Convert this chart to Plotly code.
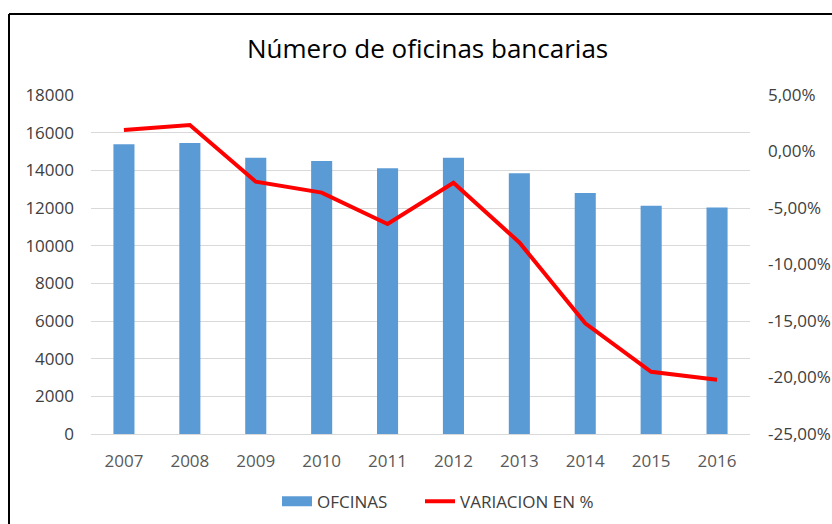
import plotly.graph_objects as go

years = ["2007", "2008", "2009", "2010", "2011", "2012", "2013", "2014", "2015", "2016"]
oficinas = [15390, 15450, 14670, 14500, 14110, 14670, 13850, 12790, 12120, 12020]
variacion = [1.90, 2.35, -2.67, -3.64, -6.42, -2.76, -8.05, -15.2, -19.5, -20.2]

left_ticks = [0, 2000, 4000, 6000, 8000, 10000, 12000, 14000, 16000, 18000]
left_labels = ["0", "2000", "4000", "6000", "8000", "10000", "12000", "14000", "16000", "18000"]
right_ticks = [-25, -20, -15, -10, -5, 0, 5]
right_labels = ["-25,00%", "-20,00%", "-15,00%", "-10,00%", "-5,00%", "0,00%", "5,00%"]

FONT = "Open Sans"
BLUE = "#5B9BD5"

fig = go.Figure()
fig.add_trace(go.Bar(x=years, y=oficinas, name="OFCINAS", marker_color=BLUE,
                     marker_line_width=0, yaxis="y", showlegend=False))
# legend-only stand-in giving the wide blue swatch of the original legend
fig.add_trace(go.Scatter(x=[None], y=[None], name="OFCINAS", mode="lines",
                         line=dict(color=BLUE, width=10), yaxis="y", legend="legend"))
fig.add_trace(go.Scatter(x=years, y=variacion, name="VARIACION EN %", mode="lines",
                         line=dict(color="#FF0000", width=4), yaxis="y2", legend="legend2"))

leg_common = dict(orientation="h", yanchor="middle", y=-0.2, xanchor="left",
                  font=dict(size=17, color="#404040"), bgcolor="rgba(0,0,0,0)")

fig.update_layout(
    width=832, height=524,
    margin=dict(l=91, r=82, t=95, b=90, autoexpand=False),
    paper_bgcolor="white", plot_bgcolor="white",
    bargap=0.68,
    font=dict(family=FONT, color="#404040"),
    title=dict(text="Número de oficinas bancarias", x=0.514, xanchor="center",
               y=1 - 49 / 524, yanchor="middle",
               font=dict(family=FONT, size=26, color="#000000")),
    xaxis=dict(type="category", showgrid=False, showline=True, linecolor="#D9D9D9",
               linewidth=1, ticks="", tickfont=dict(size=17, color="#595959"),
               ticklabelstandoff=12, automargin=False),
    yaxis=dict(range=[0, 18000], tickvals=left_ticks, ticktext=left_labels,
               showgrid=True, gridcolor="#D9D9D9", gridwidth=1, zeroline=False,
               showline=False, ticks="", tickfont=dict(size=17, color="#404040"),
               ticklabelstandoff=16, automargin=False),
    yaxis2=dict(range=[-25, 5], tickvals=right_ticks, ticktext=right_labels,
                overlaying="y", side="right", showgrid=False, zeroline=False,
                showline=False, ticks="", tickfont=dict(size=17, color="#404040"),
                ticklabelstandoff=17, automargin=False),
    legend=dict(x=(277 - 91) / 659, **leg_common),
    legend2=dict(x=(420 - 91) / 659, **leg_common),
    showlegend=True,
)

x_left = (9 - 91) / 659
y_top = 1 + (95 - 14) / 339
fig.add_shape(type="line", xref="paper", yref="paper", x0=x_left, x1=1.3,
              y0=y_top, y1=y_top, line=dict(color="black", width=2))
fig.add_shape(type="line", xref="paper", yref="paper", x0=x_left, x1=x_left,
              y0=y_top, y1=-0.4, line=dict(color="black", width=2))

fig.write_html("out.html", config={"displayModeBar": False},
               post_script="document.body.style.margin='0';")
